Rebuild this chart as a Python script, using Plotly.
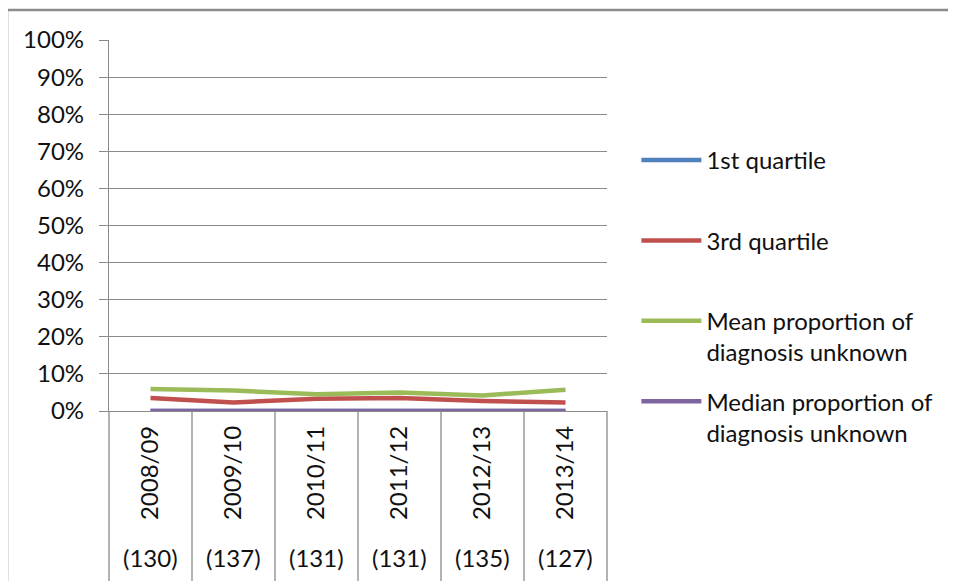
import plotly.graph_objects as go

years = ["2008/09", "2009/10", "2010/11", "2011/12", "2012/13", "2013/14"]
counts = ["(130)", "(137)", "(131)", "(131)", "(135)", "(127)"]
q1 = [0.0, 0.0, 0.0, 0.0, 0.0, 0.0]
q3 = [0.035, 0.023, 0.033, 0.035, 0.027, 0.023]
mean_prop = [0.059, 0.055, 0.045, 0.050, 0.042, 0.057]
median_prop = [0.0, 0.0, 0.0, 0.0, 0.0, 0.0]

series = [
    ("1st quartile<br>\u00a0", q1, "#4F81BD"),
    ("3rd quartile<br>\u00a0", q3, "#C0504D"),
    ("Mean proportion of<br>diagnosis unknown", mean_prop, "#9BBB59"),
    ("Median proportion of<br>diagnosis unknown", median_prop, "#8064A2"),
]

FONT = "Lato"
FS = 24
GRID = "#8a8a8a"
TXT = "#111111"

fig = go.Figure()
for i, (name, vals, col) in enumerate(series):
    fig.add_trace(go.Scatter(
        x=years, y=vals, mode="lines", name=name,
        line=dict(color=col, width=4.5),
        legendgroup=str(i),
    ))

shapes = []
n = len(years)
for k in range(n + 1):
    shapes.append(dict(type="line", xref="paper", yref="paper",
                       x0=k / n, x1=k / n, y0=0, y1=-0.5,
                       line=dict(color=GRID, width=1.3)))
# outer chart border
shapes.append(dict(type="rect", xref="paper", yref="paper",
                   x0=-0.2048, x1=2.0, y0=1.081, y1=-0.7,
                   line=dict(color="#8c8c8c", width=2.5)))

annotations = []
for yr, c in zip(years, counts):
    annotations.append(dict(x=yr, xref="x", y=-0.396, yref="paper",
                            text=c, showarrow=False,
                            font=dict(family=FONT, size=FS, color=TXT),
                            xanchor="center", yanchor="middle"))

fig.update_layout(
    width=948, height=573,
    margin=dict(l=101, r=349, t=32, b=170),
    paper_bgcolor="white", plot_bgcolor="white",
    font=dict(family=FONT, size=FS, color=TXT),
    showlegend=True,
    legend=dict(x=1.059, y=0.736, xanchor="left", yanchor="top",
                tracegroupgap=15, valign="top", itemwidth=60,
                font=dict(family=FONT, size=FS, color=TXT),
                bgcolor="rgba(0,0,0,0)"),
    shapes=shapes,
    annotations=annotations,
    xaxis=dict(type="category", range=[-0.5, n - 0.5],
               showgrid=False, showline=True, linecolor=GRID, linewidth=1.3,
               ticks="", tickangle=-90, ticklabelstandoff=4,
               zeroline=False, fixedrange=True),
    yaxis=dict(range=[0, 1], dtick=0.1, tickformat=".0%",
               showgrid=True, gridcolor=GRID, gridwidth=1.3,
               showline=True, linecolor=GRID, linewidth=1.3,
               ticks="outside", ticklen=9, tickcolor=GRID, tickwidth=1.3,
               ticklabelstandoff=10, zeroline=False, fixedrange=True),
)

fig.write_html("out.html")
